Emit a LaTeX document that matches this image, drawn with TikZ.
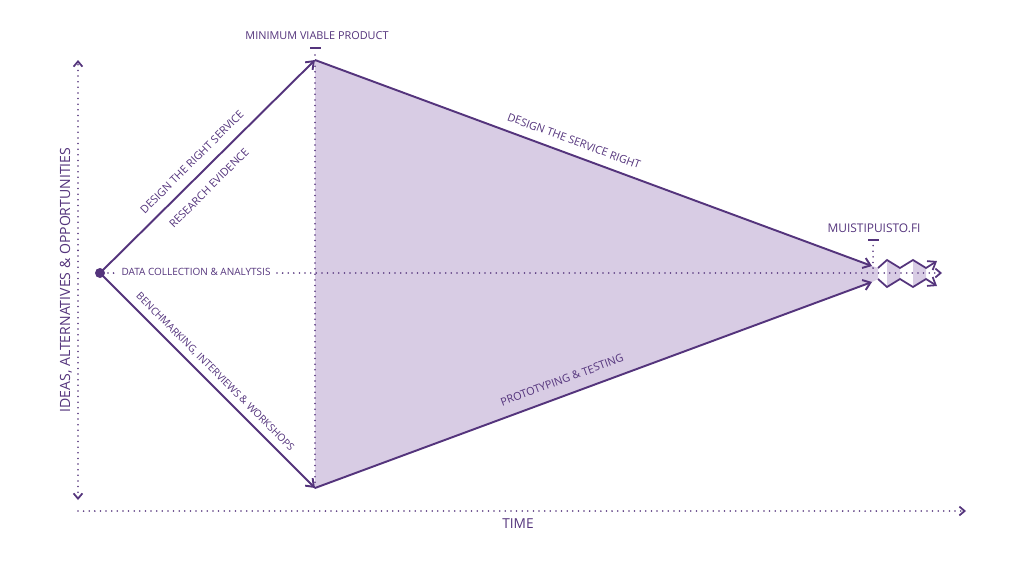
\documentclass[tikz,border=0pt]{standalone}
\usepackage{fontspec}
\setmainfont{Open Sans}
\usetikzlibrary{arrows.meta}
\definecolor{pl}{RGB}{84,52,124}
\definecolor{pf}{RGB}{216,204,228}
\begin{document}
\begin{tikzpicture}[x=0.02cm,y=-0.02cm,
  lbl/.style={text=pl,font=\fontsize{6.2}{7}\selectfont,inner sep=1pt},
  solidarrow/.style={pl,line width=1.1pt,-{Straight Barb[length=4pt,width=6pt]}},
  dots/.style={pl,line width=1pt,dash pattern=on 0pt off 3.2pt,line cap=round},
  dotsarrow/.style={dots,-{Straight Barb[length=3pt,width=5pt]}}]
\useasboundingbox (0,0) rectangle (1024,561);
\coordinate (S) at (100,273);
\coordinate (T) at (315,60);
\coordinate (B) at (315,488);
\coordinate (RT) at (872,266);
\coordinate (RB) at (872,282);
\fill[pf] (T) -- (RT) -- (878,268) -- (878,279) -- (RB) -- (B) -- cycle;
\fill[pf] (887,260) -- (900,268) -- (900,278) -- (887,287) -- cycle;
\fill[pf] (913,260) -- (926,268) -- (926,278) -- (913,287) -- cycle;
% axes
\coordinate (Ytop) at (78,60); \coordinate (Ybot) at (78,500);
\draw[dots,{Straight Barb[length=3pt,width=5pt]}-{Straight Barb[length=3pt,width=5pt]}] (Ybot) -- (Ytop);
\coordinate (X0) at (78,511); \coordinate (X1) at (966,511);
\draw[dotsarrow] (X0) -- (X1);
% dotted lines
\coordinate (Cend) at (942,273);
\draw[dots] (108,273) -- (118,273);
\draw[dotsarrow] (277,273) -- (Cend);
\draw[dots] (315,55) -- (B);
\draw[dots] (873,240) -- (873,272);
\draw[pl,line width=1.1pt] (310,48) -- (321,48);
\draw[pl,line width=1.1pt] (868,240) -- (879,240);
% main lines
\draw[solidarrow] (S) -- (T);
\draw[solidarrow] (S) -- (B);
\draw[solidarrow] (T) -- (RT);
\draw[solidarrow] (B) -- (RB);
\draw[solidarrow,line width=1pt] (878,268) -- (887,260) -- (900,268) -- (913,260) -- (926,268) -- (937,261);
\draw[solidarrow,line width=1pt] (878,279) -- (887,287) -- (900,279) -- (913,287) -- (926,279) -- (937,286);
\fill[pl] (S) circle (5);
% labels
\node[lbl] (mvp) at (317,36) {MINIMUM VIABLE PRODUCT};
\node[lbl,font=\fontsize{6.8}{7}\selectfont] (mu) at (874,228) {MUISTIPUISTO.FI};
\node[lbl,font=\fontsize{7.8}{8}\selectfont] (time) at (518,524) {TIME};
\node[lbl,font=\fontsize{8}{9}\selectfont,rotate=90] (yl) at (66,280) {IDEAS, ALTERNATIVES \& OPPORTUNITIES};
\node[lbl,rotate=45] (d1) at (192,162) {DESIGN THE RIGHT SERVICE};
\node[lbl,rotate=45] (d2) at (209,188) {RESEARCH EVIDENCE};
\node[lbl,font=\fontsize{5.7}{7}\selectfont] (d3) at (196,272) {DATA COLLECTION \& ANALYTSIS};
\node[lbl,font=\fontsize{5.8}{7}\selectfont,rotate=-45] (d4) at (215,372) {BENCHMARKING, INTERVIEWS \& WORKSHOPS};
\node[lbl,rotate=-20.3] (d5) at (574,141) {DESIGN THE SERVICE RIGHT};
\node[lbl,rotate=20.3] (d6) at (562,380) {PROTOTYPING \& TESTING};
\end{tikzpicture}
\end{document}
